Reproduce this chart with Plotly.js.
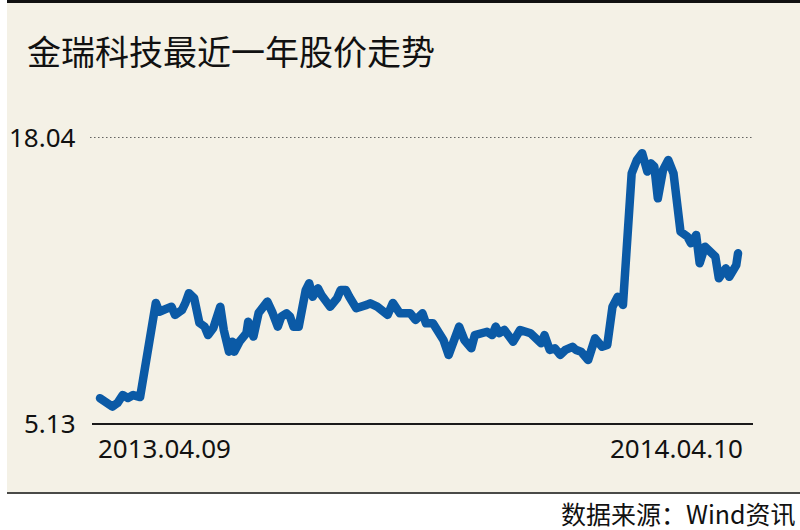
<!DOCTYPE html>
<html>
<head>
<meta charset="utf-8">
<script src="https://cdn.plot.ly/plotly-3.0.1.min.js"></script>
<style>
  html, body { margin: 0; padding: 0; background: #ffffff; width: 800px; height: 530px; overflow: hidden; }
  #panel { position: absolute; left: 7px; top: 0; width: 793px; height: 489px;
           background: #f4f1e6; border-top: 3px solid #111; border-bottom: 2px solid #4a4a48; }
  #chart { position: absolute; left: 0; top: 0; width: 800px; height: 530px; }
  #chart path.js-line { stroke-linejoin: round; stroke-linecap: round; }
</style>
</head>
<body>
<div id="panel"></div>
<div id="chart"></div>
<script>
// Day offsets from 2013.04.09
const dayOffsets = [0, 7, 10, 13, 16, 19, 23, 27, 32, 34, 38, 41, 43, 47, 49, 51, 54, 55, 57, 60,
  62, 65, 69, 71, 74, 76, 77, 80, 84, 85, 88, 91, 94, 96, 99, 102, 104, 107, 109, 111,
  114, 116, 118, 120, 122, 125, 127, 132, 136, 138, 141, 143, 147, 153, 155, 159, 162, 165, 168, 172,
  178, 181, 185, 187, 191, 194, 197, 200, 206, 209, 213, 215, 218, 222, 225, 227, 229, 232, 237, 241,
  247, 251, 253, 255, 258, 261, 264, 267, 271, 273, 276, 280, 284, 288, 291, 294, 297, 300, 303, 305,
  308, 311, 314, 316, 318, 320, 323, 326, 329, 331, 333, 337, 339, 342, 344, 347, 351, 353, 355, 359,
  361, 363, 365, 366];
// Closing price (yuan)
const prices = [6.25, 5.87, 6.03, 6.39, 6.26, 6.39, 6.30, 8.43, 10.55, 10.15, 10.23, 10.38, 10.01, 10.23, 10.55, 10.99, 10.77, 10.38, 9.65, 9.48,
  9.10, 9.42, 10.38, 9.33, 8.35, 8.80, 8.35, 8.80, 9.19, 9.70, 9.03, 10.10, 10.38, 10.61, 10.10, 9.48, 9.93, 10.08, 9.93, 9.48,
  9.48, 10.38, 11.13, 11.44, 10.83, 11.21, 10.91, 10.38, 10.76, 11.13, 11.13, 10.83, 10.31, 10.46, 10.53, 10.38, 10.23, 10.01, 10.55, 10.08,
  10.08, 9.78, 10.08, 9.63, 9.63, 9.33, 8.88, 8.20, 9.48, 8.88, 8.50, 9.10, 9.18, 9.25, 9.10, 9.48, 9.18, 9.33, 8.80, 9.33,
  9.18, 8.95, 8.73, 9.10, 8.43, 8.50, 8.20, 8.43, 8.57, 8.43, 8.35, 7.97, 8.95, 8.57, 8.65, 10.38, 10.83, 10.46, 13.99, 16.40,
  17.00, 17.31, 16.48, 16.85, 16.70, 15.27, 16.55, 17.00, 16.40, 15.20, 13.77, 13.54, 13.24, 13.62, 12.34, 13.09, 12.86, 12.64, 11.66, 12.11,
  11.73, 12.04, 12.26, 12.79];

const yTickVals = [5.13, 18.04];
const yTickText = ['5.13', '18.04'];
const xTickVals = [0, 366];
const xTickText = ['2013.04.09', '2014.04.10'];
const titleText = '金瑞科技最近一年股价走势';
const sourceText = '数据来源：Wind资讯';

const numFont = { family: 'Noto Sans, DejaVu Sans, sans-serif', size: 26, color: '#111111' };
const cjkFont = 'Noto Sans CJK SC, Noto Sans, sans-serif';

const annotations = [];
// y labels
yTickVals.forEach((v, i) => {
  annotations.push({ xref: 'paper', yref: 'y', x: 0, y: v, text: yTickText[i], showarrow: false,
    xanchor: 'right', yanchor: 'middle', xshift: -14, font: numFont });
});
// x labels
annotations.push({ xref: 'x', yref: 'paper', x: xTickVals[0], y: -0.087, text: xTickText[0], showarrow: false,
  xanchor: 'left', yanchor: 'middle', xshift: -4, font: numFont });
annotations.push({ xref: 'x', yref: 'paper', x: xTickVals[1], y: -0.087, text: xTickText[1], showarrow: false,
  xanchor: 'right', yanchor: 'middle', xshift: 7, font: numFont });
// title
annotations.push({ xref: 'paper', yref: 'paper', x: -0.101, y: 1.304, text: titleText, showarrow: false,
  xanchor: 'left', yanchor: 'middle', font: { family: cjkFont, size: 34, color: '#111111' } });
// source
annotations.push({ xref: 'paper', yref: 'paper', x: 1.0675, y: -0.315, text: sourceText, showarrow: false,
  xanchor: 'right', yanchor: 'middle', font: { family: cjkFont, size: 25, color: '#111111' } });

const trace = {
  x: dayOffsets, y: prices, type: 'scatter', mode: 'lines',
  line: { color: '#0b5aa6', width: 8.5, shape: 'linear' },
  hoverinfo: 'skip'
};

const layout = {
  width: 800, height: 530,
  margin: { l: 92, r: 47, t: 137, b: 107 },
  paper_bgcolor: 'rgba(0,0,0,0)', plot_bgcolor: 'rgba(0,0,0,0)',
  showlegend: false,
  xaxis: { range: [-4.6, 374.6], showgrid: false, zeroline: false, showticklabels: false,
           showline: true, linecolor: '#1a1a1a', linewidth: 2, ticks: '' },
  yaxis: { range: [5.13, 18.04], showgrid: false, zeroline: false, showticklabels: false, ticks: '' },
  shapes: [{ type: 'line', xref: 'paper', yref: 'y', x0: -0.003, x1: 1, y0: yTickVals[1], y1: yTickVals[1],
             line: { color: '#333333', width: 1.5, dash: '1.5px,2.5px' } }],
  annotations: annotations
};

Plotly.newPlot('chart', [trace], layout, { staticPlot: true, displayModeBar: false });
</script>
</body>
</html>
